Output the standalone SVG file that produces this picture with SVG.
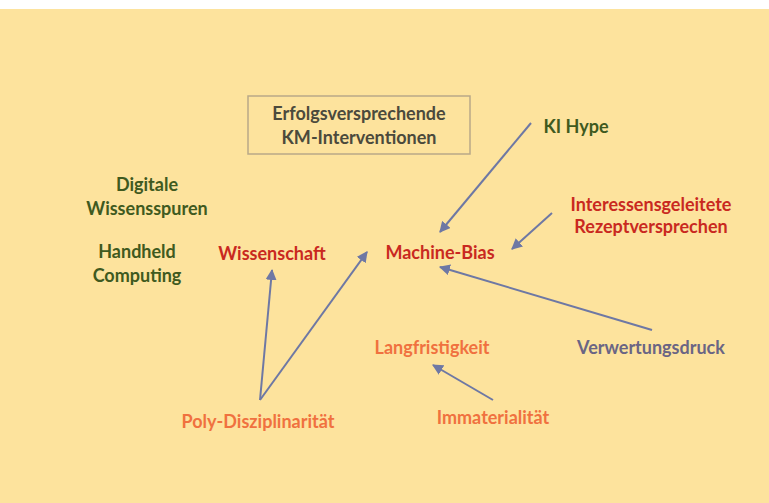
<svg xmlns="http://www.w3.org/2000/svg" width="769" height="503" viewBox="0 0 769 503">
<defs>
<marker id="ah" viewBox="0 0 10 10" refX="9" refY="5" markerWidth="5.5" markerHeight="5.5" orient="auto" markerUnits="strokeWidth">
<path d="M0,0 L10,5 L0,10 z" fill="#6e78a4"/>
</marker>
<style>
text{font-family:Lato,"Open Sans","Liberation Sans",sans-serif;font-weight:bold;font-size:18px;text-anchor:middle}
.g{fill:#3f5a20}
.r{fill:#c9291f}
.o{fill:#f0713f}
.d{fill:#4b4a3c}
.v{fill:#6a6584}
.c line{stroke:#6e78a4;stroke-width:2;marker-end:url(#ah)}
</style>
</defs>
<rect x="0" y="0" width="769" height="503" fill="#ffffff"/>
<rect x="0" y="9" width="769" height="494" fill="#fde39d"/>
<g id="box">
<rect x="248" y="96" width="222" height="58" fill="none" stroke="#b9a988" stroke-width="1.5"/>
<text class="d" x="359" y="120">Erfolgsversprechende</text>
<text class="d" x="359" y="144">KM-Interventionen</text>
</g>
<g id="digitale"><text class="g" x="147" y="191">Digitale</text><text class="g" x="147" y="215">Wissensspuren</text></g>
<g id="handheld"><text class="g" x="137" y="258">Handheld</text><text class="g" x="137" y="282">Computing</text></g>
<g id="wissenschaft"><text class="r" x="272" y="260">Wissenschaft</text></g>
<g id="machinebias"><text class="r" x="440" y="259">Machine-Bias</text></g>
<g id="kihype"><text class="g" x="576" y="133">KI Hype</text></g>
<g id="interessen"><text class="r" x="651" y="211">Interessensgeleitete</text><text class="r" x="651" y="233">Rezeptversprechen</text></g>
<g id="langfristigkeit"><text class="o" x="432" y="354">Langfristigkeit</text></g>
<g id="verwertung"><text class="v" x="651" y="354">Verwertungsdruck</text></g>
<g id="poly"><text class="o" x="258" y="428">Poly-Disziplinarität</text></g>
<g id="immaterialitaet"><text class="o" x="493" y="424">Immaterialität</text></g>
<g id="connectors" class="c">
<line x1="531" y1="123" x2="440" y2="232"/>
<line x1="552" y1="213" x2="512" y2="249"/>
<line x1="652" y1="330" x2="440" y2="267"/>
<line x1="260" y1="400" x2="272" y2="270"/>
<line x1="260" y1="400" x2="367" y2="252"/>
<line x1="493" y1="400" x2="433" y2="365"/>
</g>
</svg>
